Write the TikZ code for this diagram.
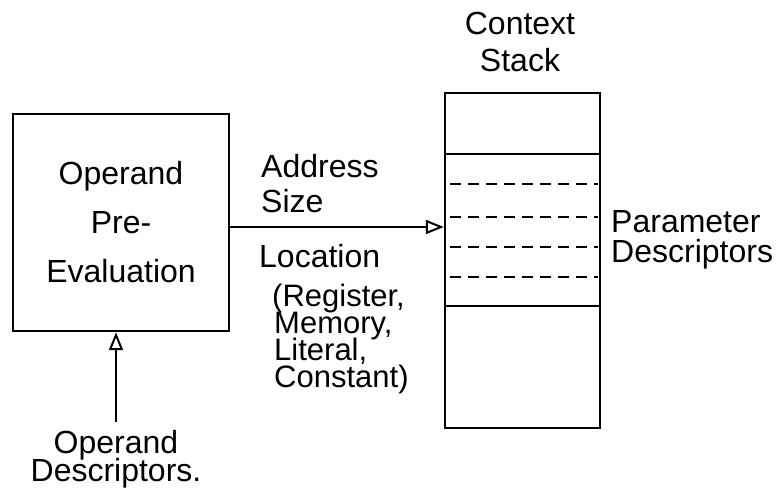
\documentclass[tikz,border=0pt]{standalone}
\usepackage{fontspec}
\setmainfont{Liberation Sans}
\usetikzlibrary{positioning, arrows.meta}
\newcommand{\tightlines}{\lineskiplimit=-20pt\relax}

\begin{document}
\begin{tikzpicture}[
    x=1pt, y=-1pt,
    lbl/.style={font=\fontsize{32}{35}\selectfont\tightlines, inner sep=0pt, align=left},
    frame/.style={draw, line width=2.4pt, inner sep=0pt},
    arr/.style={-{Triangle[open, length=18pt, width=14pt, line width=2pt]}, line width=2.2pt},
    dashline/.style={line width=2.2pt, dash pattern=on 11pt off 7pt}
]
\useasboundingbox (0,0) rectangle (781,500);
\node[frame, minimum width=216pt, minimum height=217pt, align=center, font=\fontsize{32}{35}\selectfont] (pre) at (121,222.5) {Operand\\[14pt]Pre-\\[14pt]Evaluation};
\node[frame, minimum width=155pt, minimum height=335pt] (stack) at (522.5,260.5) {};
\node[lbl, align=center, font=\fontsize{32}{37}\selectfont\tightlines] (ctx) at (520,41.5) {Context\\Stack};
\node[lbl, anchor=west, font=\fontsize{32}{30}\selectfont\tightlines] (param) at (611,240) {Parameter\\Descriptors};
\node[lbl, anchor=west] (addr) at (261,184) {Address\\Size};
\node[lbl, anchor=west] (loc) at (259,256) {Location};
\node[lbl, anchor=north west, font=\fontsize{31}{27}\selectfont\tightlines] (kinds) at (272,284) {(Register,\\\hspace{2pt}Memory,\\\hspace{2pt}Literal,\\\hspace{2pt}Constant)};
\node[lbl, align=center, font=\fontsize{32}{28}\selectfont\tightlines] (od) at (116,459) {Operand\\Descriptors.};
% stack slots
\draw[line width=2.4pt] (445,154) -- (600,154);
\draw[line width=2.4pt] (445,306) -- (600,306);
\foreach \y in {184,217,247,277}
    \draw[dashline] (450,\y) -- (598,\y);
\path ([yshift=-4.5pt]pre.east) coordinate (a1);
\draw[arr] (a1) -- (a1 -| stack.west);
\draw[arr] ([yshift=8pt]od.north) -- (od.north |- pre.south);
\end{tikzpicture}
\end{document}
